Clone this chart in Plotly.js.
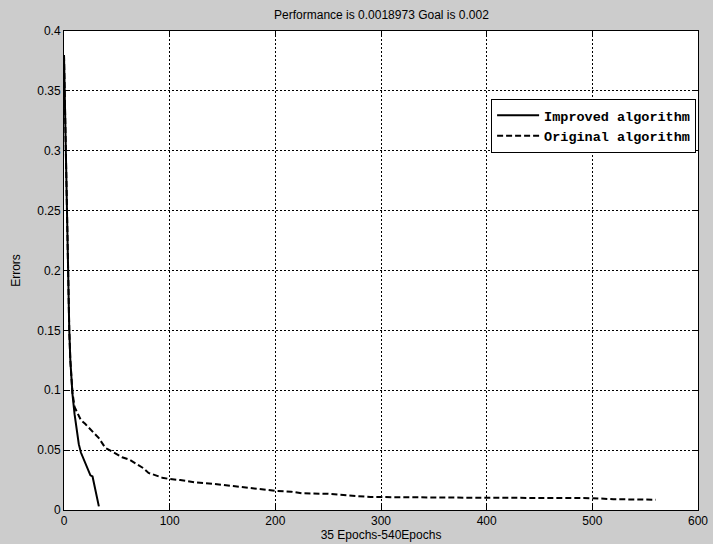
<!DOCTYPE html>
<html>
<head>
<meta charset="utf-8">
<script src="https://cdn.plot.ly/plotly-3.0.1.min.js"></script>
<style>html,body{margin:0;padding:0;background:#cccccc;}#chart{width:713px;height:544px;}</style>
</head>
<body>
<div id="chart"></div>
<script>
var improvedX = [0, 1, 2, 3, 4, 5, 6, 7, 8, 10, 12, 14, 16, 20, 24, 25, 27, 30, 33];
var improvedY = [0.38, 0.33, 0.27, 0.22, 0.18, 0.15, 0.125, 0.11, 0.097, 0.08, 0.066, 0.055, 0.048, 0.04, 0.031, 0.029, 0.028, 0.015, 0.003];

var originalX = [0, 1, 2, 3, 4, 5, 6, 7, 8, 10, 13, 16, 20, 27, 33, 39, 47, 55, 62, 68, 75, 80, 87, 93, 99, 110, 125, 140, 160, 180, 200, 215, 225, 250, 270, 290, 300, 345, 350, 400, 450, 500, 520, 540, 560];
var originalY = [0.38, 0.33, 0.27, 0.22, 0.18, 0.15, 0.125, 0.11, 0.098, 0.086, 0.08, 0.075, 0.072, 0.066, 0.06, 0.052, 0.048, 0.044, 0.042, 0.039, 0.035, 0.031, 0.029, 0.027, 0.026, 0.025, 0.023, 0.022, 0.02, 0.018, 0.016, 0.0153, 0.014, 0.0135, 0.012, 0.0108, 0.0108, 0.0108, 0.0103, 0.0102, 0.0101, 0.0099, 0.009, 0.0088, 0.0086];

var xTicks = [0, 100, 200, 300, 400, 500, 600];
var yTicks = [0, 0.05, 0.1, 0.15, 0.2, 0.25, 0.3, 0.35, 0.4];
var yTickText = ['0', '0.05', '0.1', '0.15', '0.2', '0.25', '0.3', '0.35', '0.4'];

var titleText = 'Performance is 0.0018973 Goal is 0.002';
var xTitle = '35 Epochs-540Epochs';
var yTitle = 'Errors';
var seriesNames = ['Improved algorithm', 'Original algorithm'];

var traces = [
  {x: improvedX, y: improvedY, mode: 'lines', name: seriesNames[0],
   line: {color: '#000000', width: 2}},
  {x: originalX, y: originalY, mode: 'lines', name: seriesNames[1],
   line: {color: '#000000', width: 2, dash: '6px,3px'}}
];

var axisCommon = {
  showline: true, linecolor: '#000000', linewidth: 1, mirror: 'ticks',
  ticks: 'inside', ticklen: 5, tickcolor: '#000000',
  showgrid: true, gridcolor: '#000000', gridwidth: 1, griddash: '2px,2px',
  zeroline: false,
  tickfont: {family: 'Liberation Sans, Arial, sans-serif', size: 12, color: '#000000'}
};

var layout = {
  width: 713, height: 544,
  paper_bgcolor: '#cccccc', plot_bgcolor: '#ffffff',
  margin: {l: 64, r: 15, t: 31, b: 34, pad: 0},
  showlegend: true,
  title: {text: titleText, x: 0.535, xanchor: 'center', y: 0.972, yanchor: 'middle',
          font: {family: 'Liberation Sans, Arial, sans-serif', size: 12, color: '#000000'}},
  xaxis: Object.assign({}, axisCommon, {
    range: [0, 600], tickvals: xTicks, ticktext: xTicks.map(String),
    title: {text: xTitle, standoff: 2, font: {family: 'Liberation Sans, Arial, sans-serif', size: 12, color: '#000000'}}
  }),
  yaxis: Object.assign({}, axisCommon, {
    range: [0, 0.4], tickvals: yTicks, ticktext: yTickText,
    title: {text: yTitle, standoff: 14, font: {family: 'Liberation Sans, Arial, sans-serif', size: 12, color: '#000000'}}
  }),
  legend: {
    x: 0.997, y: 0.858, xanchor: 'right', yanchor: 'top',
    bgcolor: '#ffffff', bordercolor: '#000000', borderwidth: 1,
    font: {family: 'Liberation Mono, Courier New, monospace', size: 13.5, color: '#000000', weight: 'bold'},
    tracegroupgap: 0, itemwidth: 42
  }
};

Plotly.newPlot('chart', traces, layout, {staticPlot: true, displayModeBar: false});
</script>
</body>
</html>
